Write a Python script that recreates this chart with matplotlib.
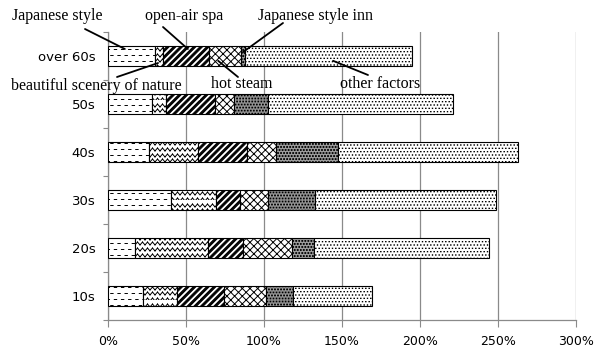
import warnings
import numpy as np
import matplotlib
matplotlib.use("Agg")
import matplotlib.pyplot as plt
import matplotlib.hatch as mhatch
from matplotlib.path import Path

warnings.filterwarnings("ignore")

# ---- data -----------------------------------------------------------------
groups = ["10s", "20s", "30s", "40s", "50s", "over 60s"]
factors = ["Japanese style", "beautiful scenery of nature", "open-air spa",
           "hot steam", "Japanese style inn", "other factors"]
japanese_style = [22.5, 17.5, 40.5, 26.0, 28.0, 30.0]
scenery = [21.5, 46.5, 28.5, 32.0, 9.0, 5.0]
open_air_spa = [30.5, 22.5, 15.5, 31.0, 31.5, 30.0]
hot_steam = [26.5, 31.5, 18.0, 18.5, 12.5, 20.0]
style_inn = [17.5, 14.0, 30.5, 40.0, 21.5, 3.0]
other_factors = [51.0, 112.0, 116.0, 115.5, 118.5, 107.0]
x_ticks = [0, 50, 100, 150, 200, 250, 300]
x_tick_labels = ["0%", "50%", "100%", "150%", "200%", "250%", "300%"]


# ---- fill patterns (one hatch tile = 1 x 1 unit) ---------------------------
def _segments(vertices, codes, segs):
    for k, (p0, p1) in enumerate(segs):
        vertices[2 * k] = p0
        vertices[2 * k + 1] = p1
        codes[2 * k] = Path.MOVETO
        codes[2 * k + 1] = Path.LINETO


def _squares(vertices, codes, centers, s):
    for k, (cx, cy) in enumerate(centers):
        sq = [(cx - s, cy - s), (cx + s, cy - s), (cx + s, cy + s),
              (cx - s, cy + s), (cx - s, cy - s)]
        for j, pt in enumerate(sq):
            vertices[5 * k + j] = pt
            codes[5 * k + j] = (Path.MOVETO if j == 0 else
                                Path.CLOSEPOLY if j == 4 else Path.LINETO)


class DashRows(mhatch.HatchPatternBase):
    """Staggered rows of short dashes."""
    rows, per_row, dash = 16, 14, 0.024

    def __init__(self, hatch, density):
        self.num_vertices = 2 * self.rows * self.per_row if "d" in hatch else 0

    def set_vertices_and_codes(self, vertices, codes):
        segs = []
        for r in range(self.rows):
            y = (round(r * 100 / self.rows) + 0.5) / 100
            shift = 0.5 / self.per_row if r % 2 else 0.0
            for c in range(self.per_row):
                x0 = c / self.per_row + shift
                segs.append(((x0, y), (x0 + self.dash, y)))
        _segments(vertices, codes, segs)


class WaveRows(mhatch.HatchPatternBase):
    """Rows of small zigzag waves."""
    rows, waves, amp = 18, 20, 0.014

    def __init__(self, hatch, density):
        self.num_vertices = 4 * self.rows * self.waves if "w" in hatch else 0

    def set_vertices_and_codes(self, vertices, codes):
        segs = []
        p = 1.0 / self.waves
        for r in range(self.rows):
            y = (round(r * 100 / self.rows) + 0.5) / 100
            for c in range(self.waves):
                x0 = c * p
                segs.append(((x0, y - self.amp), (x0 + p / 2, y + self.amp)))
                segs.append(((x0 + p / 2, y + self.amp), (x0 + p, y - self.amp)))
        _segments(vertices, codes, segs)


class CrossLines(mhatch.HatchPatternBase):
    """Thin diagonal cross-hatching."""
    n = 13

    def __init__(self, hatch, density):
        self.num_vertices = 2 * 2 * (2 * self.n + 1) if "c" in hatch else 0

    def set_vertices_and_codes(self, vertices, codes):
        segs = []
        for i in range(-self.n, self.n + 1):
            x0 = i / self.n
            segs.append(((x0, 0.0), (x0 + 1, 1.0)))
            segs.append(((x0, 1.0), (x0 + 1, 0.0)))
        _segments(vertices, codes, segs)


class ThickStripes(mhatch.HatchPatternBase):
    """Bold diagonal stripes drawn as filled parallelograms."""
    n, w = 15, 0.40

    def __init__(self, hatch, density):
        self.num_vertices = 5 * 2 * self.n if "s" in hatch else 0

    def set_vertices_and_codes(self, vertices, codes):
        k = 0
        ww = self.w / self.n
        for i in range(-self.n, self.n):
            x0 = i / self.n
            quad = [(x0, 0.0), (x0 + ww, 0.0), (x0 + ww + 1, 1.0),
                    (x0 + 1, 1.0), (x0, 0.0)]
            for j, pt in enumerate(quad):
                vertices[k] = pt
                codes[k] = (Path.MOVETO if j == 0 else
                            Path.CLOSEPOLY if j == 4 else Path.LINETO)
                k += 1


class DotGrid(mhatch.HatchPatternBase):
    """Fine staggered dots."""
    n, size, key = 30, 0.002, "p"

    def __init__(self, hatch, density):
        self.num_vertices = 5 * self.n * self.n if self.key in hatch else 0

    def set_vertices_and_codes(self, vertices, codes):
        centers = []
        for r in range(self.n):
            shift = 0.5 / self.n if r % 2 else 0.0
            for c in range(self.n):
                centers.append(((c + 0.25) / self.n + shift,
                                (r + 0.5) / self.n))
        _squares(vertices, codes, centers, self.size)


class Checker(DotGrid):
    """Small dark squares over a grey ground."""
    n, size, key = 33, 0.004, "k"


mhatch._hatch_types.extend([DashRows, WaveRows, CrossLines, ThickStripes,
                            DotGrid, Checker])
plt.rcParams["hatch.linewidth"] = 0.7

# ---- figure ---------------------------------------------------------------
W, H = 594, 353
fig = plt.figure(figsize=(W / 100, H / 100), dpi=100)
ax = fig.add_axes([108 / W, 33 / H, 468 / W, 288 / H])

series = [japanese_style, scenery, open_air_spa, hot_steam, style_inn,
          other_factors]
styles = [
    dict(facecolor="white", hatch="d"),
    dict(facecolor="white", hatch="w"),
    dict(facecolor="white", hatch="s"),
    dict(facecolor="white", hatch="c"),
    dict(facecolor="#9c9c9c", hatch="k"),
    dict(facecolor="white", hatch="p"),
]

y = np.arange(len(groups))
left = np.zeros(len(groups))
starts = []
for vals, st, name in zip(series, styles, factors):
    vals = np.asarray(vals)
    starts.append(left.copy())
    ax.barh(y, vals, left=left, height=0.4, edgecolor="black",
            linewidth=0.8, label=name, zorder=3, **st)
    left = left + vals

ax.set_xlim(0, 300)
ax.set_ylim(-0.5, len(groups) - 0.5)
ax.set_xticks(x_ticks)
ax.set_xticklabels(x_tick_labels, fontsize=9, family="DejaVu Sans")
ax.set_yticks(y)
ax.set_yticklabels(groups, fontsize=9.5, family="DejaVu Sans")
ax.set_yticks(np.arange(-0.5, len(groups)), minor=True)

grid_c = "#8a8a8a"
ax.tick_params(axis="y", which="major", length=0, pad=9)
ax.tick_params(axis="y", which="minor", length=3.5, width=0.8, color=grid_c,
               direction="out")
ax.tick_params(axis="x", which="major", length=5, width=0.8, color=grid_c,
               direction="out", pad=6)
ax.xaxis.grid(True, color=grid_c, linewidth=0.9, zorder=0)
ax.set_axisbelow(True)
for side in ("top", "right"):
    ax.spines[side].set_visible(False)
for side in ("left", "bottom"):
    ax.spines[side].set_color(grid_c)
    ax.spines[side].set_linewidth(0.9)

# ---- callout labels on the top bar ---------------------------------------
row = len(groups) - 1


def seg_point(seg, frac, dy):
    x = starts[seg][row] + frac * series[seg][row]
    return (x, row + dy)


callouts = [
    # segment, fraction along it, dy, text centre x, baseline y, line start
    (0, 0.36, 0.146, 57, 19.5, (85, 29)),
    (2, 0.54, 0.146, 184.5, 19.5, (163, 27)),
    (4, 0.50, 0.08, 316, 20, (283, 23)),
    (1, 0.42, -0.146, 96, 90, (117, 77)),
    (3, 0.28, -0.10, 242, 88.5, (238, 77)),
    (5, 0.526, -0.10, 380, 88.5, (368, 75)),
]
for seg, frac, dy, tx, ty, (lx, ly) in callouts:
    ax.annotate("", xy=seg_point(seg, frac, dy), xycoords="data",
                xytext=(lx, H - ly), textcoords="figure pixels",
                arrowprops=dict(arrowstyle="-", color="black", lw=1.3,
                                shrinkA=0, shrinkB=0),
                annotation_clip=False, zorder=5)
    fig.text(tx / W, (H - ty) / H, factors[seg], ha="center", va="baseline",
             fontsize=11.5, family="Liberation Serif")

fig.savefig("out.png", dpi=100)
